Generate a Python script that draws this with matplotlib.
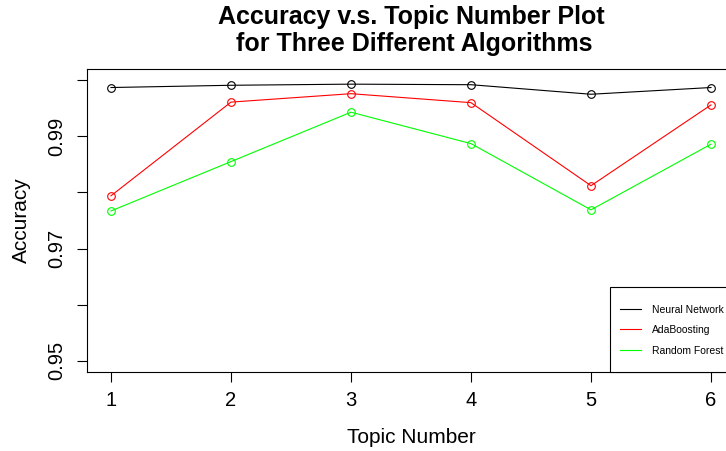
import matplotlib
matplotlib.use("Agg")
import matplotlib.pyplot as plt
from matplotlib.patches import Rectangle

plt.rcParams['font.family'] = ['Liberation Sans', 'DejaVu Sans']

topics = [1, 2, 3, 4, 5, 6]
neural_network = [0.9987, 0.9991, 0.9993, 0.9992, 0.9975, 0.9987]
ada_boosting = [0.9794, 0.9961, 0.9976, 0.9960, 0.9812, 0.9956]
random_forest = [0.9767, 0.9855, 0.9943, 0.9887, 0.9769, 0.9886]
y_ticks = [0.95, 0.96, 0.97, 0.98, 0.99, 1.00]
y_labels = ['0.95', '', '0.97', '', '0.99', '']

fig = plt.figure(figsize=(7.26, 4.51), dpi=100)
ax = fig.add_axes([0.1198, 0.1752, 0.8926, 0.6718])

for vals, col, name in [(neural_network, 'black', 'Neural Network'),
                        (ada_boosting, 'red', 'AdaBoosting'),
                        (random_forest, '#00ff00', 'Random Forest')]:
    ax.plot(topics, vals, color=col, linewidth=0.8, label=name)
    ax.plot(topics, vals, linestyle='none', marker='o', markersize=5.5,
            markerfacecolor='none', markeredgecolor=col, markeredgewidth=0.8)

ax.set_xlim(0.8, 6.2)
ax.set_ylim(0.948, 1.002)
ax.set_xticks(topics)
ax.set_yticks(y_ticks)
ax.set_yticklabels(y_labels, rotation=90, va='center')
ax.tick_params(direction='out', length=7, width=0.8, labelsize=14.5)
ax.tick_params(axis='x', pad=7)
ax.tick_params(axis='y', pad=8)
for s in ax.spines.values():
    s.set_linewidth(0.8)

ax.set_xlabel('Topic Number', fontsize=15, labelpad=13)
ax.set_ylabel('Accuracy', fontsize=15, labelpad=12)
ax.set_title('Accuracy v.s. Topic Number Plot\n for Three Different Algorithms',
             fontsize=18, fontweight='bold', pad=13, linespacing=1.15)

# legend box drawn separately so the inner padding can differ from R's box
ax.add_patch(Rectangle((0.807, 0.0), 0.3, 0.2805, transform=ax.transAxes,
                       facecolor='white', edgecolor='black', linewidth=0.8,
                       clip_on=False, zorder=4))
leg = ax.legend(loc='lower left', bbox_to_anchor=(0.807, 0.02), borderaxespad=0,
                fontsize=7.5, frameon=False, handlelength=2.0, labelspacing=1.0,
                borderpad=1.0, handletextpad=1.0)
leg.set_zorder(5)

fig.savefig('out.png', dpi=100)
